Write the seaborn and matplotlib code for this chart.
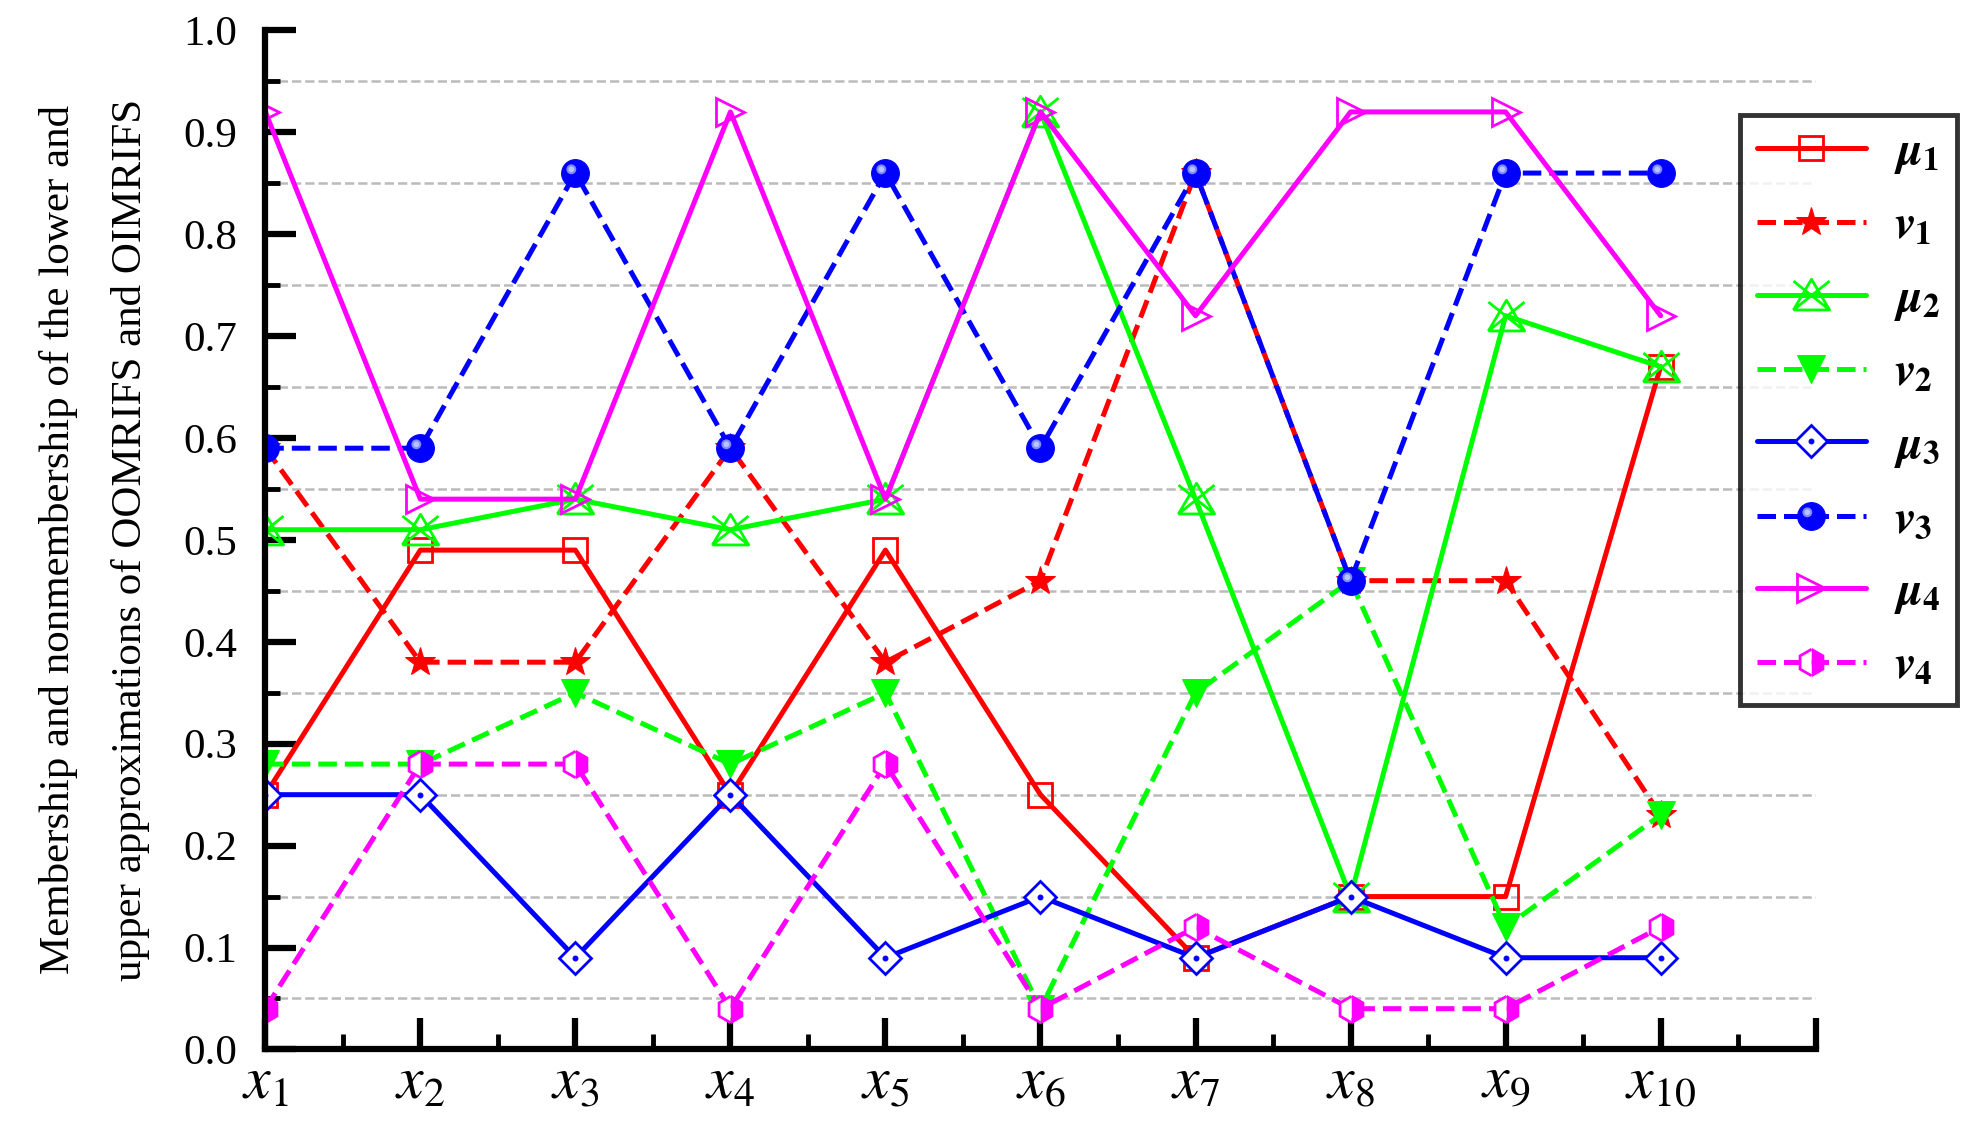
import numpy as np
import pandas as pd
import matplotlib
matplotlib.use("Agg")
import matplotlib.pyplot as plt
from matplotlib.path import Path
from matplotlib.ticker import MultipleLocator, FixedLocator
from matplotlib.legend_handler import HandlerTuple
import seaborn as sns

sns.set_style("ticks", {"axes.edgecolor": "black", "xtick.color": "black",
                        "ytick.color": "black", "text.color": "black",
                        "axes.labelcolor": "black"})
plt.rcParams['font.family'] = ['Liberation Serif', 'DejaVu Serif']
plt.rcParams['mathtext.fontset'] = 'custom'
plt.rcParams['mathtext.it'] = 'STIXGeneral:italic:bold'
plt.rcParams['mathtext.rm'] = 'STIXGeneral:bold'

objects = [1, 2, 3, 4, 5, 6, 7, 8, 9, 10]
x_labels = [r'$x_{%d}$' % i for i in objects]

mu1 = [0.25, 0.49, 0.49, 0.25, 0.49, 0.25, 0.09, 0.15, 0.15, 0.67]
nu1 = [0.59, 0.38, 0.38, 0.59, 0.38, 0.46, 0.86, 0.46, 0.46, 0.23]
mu2 = [0.51, 0.51, 0.54, 0.51, 0.54, 0.92, 0.54, 0.15, 0.72, 0.67]
nu2 = [0.28, 0.28, 0.35, 0.28, 0.35, 0.04, 0.35, 0.46, 0.12, 0.23]
mu3 = [0.25, 0.25, 0.09, 0.25, 0.09, 0.15, 0.09, 0.15, 0.09, 0.09]
nu3 = [0.59, 0.59, 0.86, 0.59, 0.86, 0.59, 0.86, 0.46, 0.86, 0.86]
mu4 = [0.92, 0.54, 0.54, 0.92, 0.54, 0.92, 0.72, 0.92, 0.92, 0.72]
nu4 = [0.04, 0.28, 0.28, 0.04, 0.28, 0.04, 0.12, 0.04, 0.04, 0.12]

# triangle + X glyph for mu2
tri_x = Path([(-1, -0.8), (0, 0.9), (1, -0.8), (-1, -0.8),
              (-1, 0.8), (1, -0.8), (1, 0.8), (-1, -0.8)],
             [Path.MOVETO, Path.LINETO, Path.LINETO, Path.LINETO,
              Path.MOVETO, Path.LINETO, Path.MOVETO, Path.LINETO])
# small off-centre highlight for the ball marker
circ = Path.circle(center=(-0.3, 0.3), radius=0.28)
shine = Path(np.vstack([circ.vertices, [[1, 1], [-1, -1]]]),
             np.concatenate([circ.codes, [Path.MOVETO, Path.MOVETO]]))

series = [
    (r'$\mu_1$', mu1, '#ff0000', '-', dict(marker='s', ms=17, mfc='none', mec='#ff0000', mew=2), None),
    (r'$v_1$', nu1, '#ff0000', '--', dict(marker='*', ms=22, mfc='#ff0000', mec='#ff0000'), None),
    (r'$\mu_2$', mu2, '#00ff00', '-', dict(marker=tri_x, ms=26, mfc='none', mec='#00ff00', mew=2), None),
    (r'$v_2$', nu2, '#00ff00', '--', dict(marker='v', ms=20, mfc='#00ff00', mec='#00ff00'), None),
    (r'$\mu_3$', mu3, '#0000ff', '-', dict(marker='D', ms=16, mfc='white', mec='#0000ff', mew=2),
     dict(marker='o', ms=3.5, mfc='#0000ff', mec='#0000ff')),
    (r'$v_3$', nu3, '#0000ff', '--', dict(marker='o', ms=20, mfc='#0000ff', mec='#0000ff'),
     dict(marker=shine, ms=20, mfc='#b8c4ff', mec='#7f8cff', mew=1.5)),
    (r'$\mu_4$', mu4, '#ff00ff', '-', dict(marker='>', ms=20, mfc='none', mec='#ff00ff', mew=2), None),
    (r'$v_4$', nu4, '#ff00ff', '--', dict(marker='h', ms=19, mfc='#ff00ff', mec='#ff00ff',
                                          fillstyle='right', markerfacecoloralt='white', mew=2), None),
]

fig = plt.figure(figsize=(19.8, 11.26), dpi=100)
ax = fig.add_axes([0.134, 0.068, 0.783, 0.905])

handles, labels = [], []
for label, vals, color, ls, mk, overlay in series:
    df = pd.DataFrame({'x': objects, 'y': vals})
    extra = {} if ls == '-' else {'dashes': (2.2, 1.6)}
    sns.lineplot(data=df, x='x', y='y', ax=ax, color=color, linestyle=ls,
                 linewidth=3.6, legend=False, **extra, **mk)
    h = ax.lines[-1]
    if overlay is not None:
        sns.lineplot(data=df, x='x', y='y', ax=ax, linestyle='None',
                     legend=False, **overlay)
        h = (h, ax.lines[-1])
    handles.append(h)
    labels.append(label)

ax.set_xlim(1, 11)
ax.set_ylim(0, 1.0)
ax.xaxis.set_major_locator(FixedLocator(list(range(1, 12))))
ax.xaxis.set_minor_locator(MultipleLocator(0.5))
ax.set_xticklabels(x_labels + [''], fontsize=43)
for t in ax.get_xticklabels():
    t.set_math_fontfamily('stix')
ax.set_yticks(np.round(np.arange(0, 1.01, 0.1), 1))
ax.yaxis.set_minor_locator(MultipleLocator(0.05))
ax.set_yticklabels(['%.1f' % v for v in np.arange(0, 1.01, 0.1)], fontsize=31)

for yv in np.arange(0.05, 1.0, 0.1):
    ax.axhline(yv, color='#bbbbbb', linestyle='--', linewidth=1.8, zorder=0)

ax.tick_params(axis='both', which='major', direction='in', length=22, width=4.5, pad=10)
ax.tick_params(axis='both', which='minor', direction='in', length=11, width=3.5)
ax.tick_params(axis='y', which='major', pad=20)
ax.tick_params(axis='x', which='major', pad=6)
for side in ['top', 'right']:
    ax.spines[side].set_visible(False)
for side in ['left', 'bottom']:
    ax.spines[side].set_linewidth(4.5)
    ax.spines[side].set_color('black')

ax.set_xlabel('')
ax.set_ylabel('Membership and nonmembership of the lower and\n'
              'upper approximations of OOMRIFS and OIMRIFS',
              fontsize=31, labelpad=24, linespacing=2.1)

leg = ax.legend(handles, labels, loc='upper left', bbox_to_anchor=(0.879, 0.898),
                bbox_transform=fig.transFigure, borderaxespad=0,
                prop={'size': 34}, frameon=True,
                handler_map={tuple: HandlerTuple(ndivide=1)},
                fancybox=False, edgecolor='black', handlelength=2.3,
                labelspacing=0.62, borderpad=0.35, handletextpad=0.6)
leg.get_frame().set_linewidth(3.5)

fig.savefig('out.png', dpi=100)
